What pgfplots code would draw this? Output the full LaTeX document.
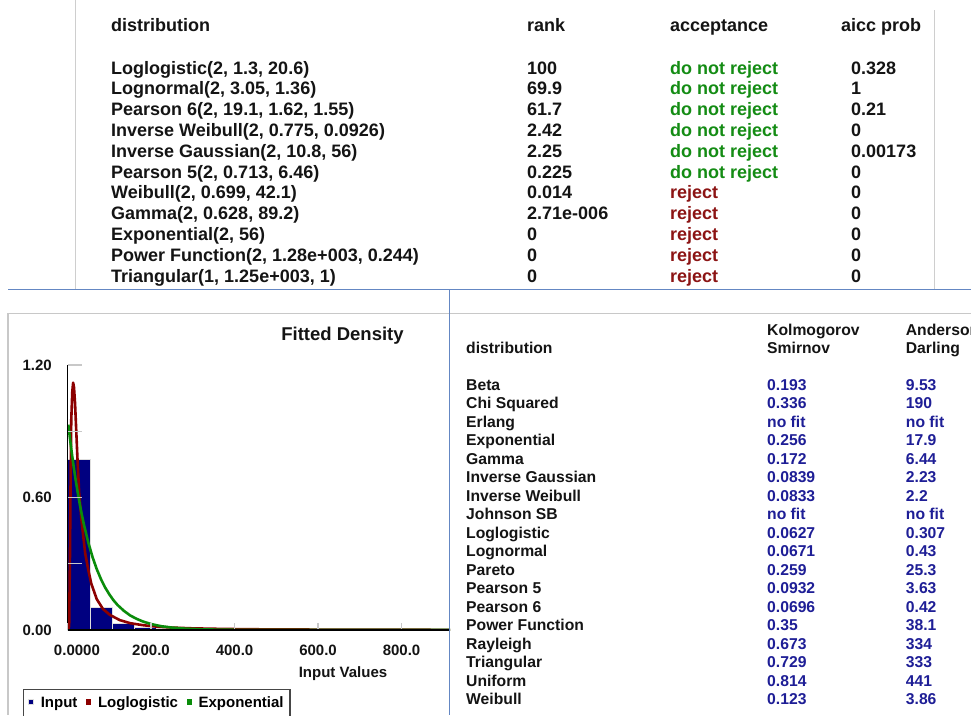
\documentclass[border=0pt]{standalone}
\usepackage{fontspec}
\setmainfont{Liberation Sans}
\usepackage{pgfplots}
\pgfplotsset{compat=1.18}
\definecolor{barnavy}{RGB}{0,0,128}
\definecolor{curvered}{RGB}{140,0,0}
\definecolor{curvegreen}{RGB}{10,140,10}
\definecolor{tickgrey}{RGB}{200,200,200}
\definecolor{valblue}{RGB}{30,30,150}
\definecolor{accgreen}{RGB}{20,140,20}
\definecolor{accred}{RGB}{140,20,20}
\definecolor{tblack}{RGB}{20,20,20}
\definecolor{panelblue}{RGB}{100,135,195}
\definecolor{panelgrey}{RGB}{200,200,200}
\definecolor{legendgrey}{RGB}{70,70,70}
\begin{document}
\begin{tikzpicture}[x=1pt,y=1pt]
\path[use as bounding box] (0,0) rectangle (971,-715);
\fill[white] (0,0) rectangle (971,-715);
% ---------- panel lines ----------
\draw[panelgrey!90, line width=1pt] (75.7,0) -- (75.7,-289);
\draw[panelgrey!90, line width=1pt] (934.3,-10) -- (934.3,-289);
\draw[panelgrey, line width=1.2pt] (8,-313.3) -- (971,-313.3);
\draw[panelgrey, line width=1.2pt] (8,-313.3) -- (8,-715);
% ---------- top table ----------
\begin{scope}[every node/.style={anchor=base west, inner sep=0pt, font=\fontsize{18}{20}\selectfont\bfseries, text=tblack}]
\node at (111,-31.7) {distribution};
\node at (527,-31.7) {rank};
\node at (670,-31.7) {acceptance};
\node at (841,-31.7) {aicc prob};
\foreach \d/\r/\a/\c/\p [count=\i from 0] in {
 {Loglogistic(2, 1.3, 20.6)}/100/do not reject/accgreen/0.328,
 {Lognormal(2, 3.05, 1.36)}/69.9/do not reject/accgreen/1,
 {Pearson 6(2, 19.1, 1.62, 1.55)}/61.7/do not reject/accgreen/0.21,
 {Inverse Weibull(2, 0.775, 0.0926)}/2.42/do not reject/accgreen/0,
 {Inverse Gaussian(2, 10.8, 56)}/2.25/do not reject/accgreen/0.00173,
 {Pearson 5(2, 0.713, 6.46)}/0.225/do not reject/accgreen/0,
 {Weibull(2, 0.699, 42.1)}/0.014/reject/accred/0,
 {Gamma(2, 0.628, 89.2)}/2.71e-006/reject/accred/0,
 {Exponential(2, 56)}/0/reject/accred/0,
 {Power Function(2, 1.28e+003, 0.244)}/0/reject/accred/0,
 {Triangular(1, 1.25e+003, 1)}/0/reject/accred/0}
 {
 \node at (111,{-74-20.8*\i}) {\d};
 \node at (527,{-74-20.8*\i}) {\r};
 \node[text=\c] at (670,{-74-20.8*\i}) {\a};
 \node at (851,{-74-20.8*\i}) {\p};
 }
\end{scope}
% ---------- lower table ----------
\begin{scope}[every node/.style={anchor=base west, inner sep=0pt, font=\fontsize{15.7}{17}\selectfont\bfseries, text=tblack}]
\node at (466,-353.3) {distribution};
\node at (767,-335) {Kolmogorov};
\node at (767,-353.3) {Smirnov};
\node at (905.7,-335) {Anderson};
\node at (905.7,-353.3) {Darling};
\foreach \n/\k/\a [count=\i from 0] in {
 Beta/0.193/9.53, Chi Squared/0.336/190, Erlang/no fit/no fit,
 Exponential/0.256/17.9, Gamma/0.172/6.44, Inverse Gaussian/0.0839/2.23,
 Inverse Weibull/0.0833/2.2, Johnson SB/no fit/no fit, Loglogistic/0.0627/0.307,
 Lognormal/0.0671/0.43, Pareto/0.259/25.3, Pearson 5/0.0932/3.63,
 Pearson 6/0.0696/0.42, Power Function/0.35/38.1, Rayleigh/0.673/334,
 Triangular/0.729/333, Uniform/0.814/441, Weibull/0.123/3.86}
 {
 \node at (466,{-390-18.51*\i}) {\n};
 \node[text=valblue] at (767,{-390-18.51*\i}) {\k};
 \node[text=valblue] at (905.7,{-390-18.51*\i}) {\a};
 }
\end{scope}
% ---------- chart ----------
\node[anchor=base, inner sep=0pt, font=\fontsize{18.5}{20}\selectfont\bfseries, text=tblack] at (342.5,-340) {Fitted Density};
\node[anchor=base, inner sep=0pt, font=\fontsize{15}{16}\selectfont\bfseries, text=tblack] at (343,-677.7) {Input Values};
\begin{axis}[
  at={(67.5pt,-630pt)}, anchor=south west,
  scale only axis, width=382.5pt, height=265pt,
  xmin=0, xmax=916, ymin=0, ymax=1.2,
  axis x line*=bottom, axis y line*=left,
  axis line style={black, line width=1.8pt, -},
  axis on top,
  tick align=inside,
  xtick={200,400,600,800},
  xticklabels={\textbf{200.0},\textbf{400.0},\textbf{600.0},\textbf{800.0}},
  extra x ticks={0},
  extra x tick labels={\makebox[0pt][l]{\hspace*{-13.5pt}\textbf{0.0000}}},
  extra x tick style={major tick length=0pt},
  ytick={0.3,0.6,0.9,1.2},
  yticklabels={,\textbf{0.60},,\textbf{1.20}},
  extra y ticks={0},
  extra y tick labels={\textbf{0.00}},
  extra y tick style={major tick length=0pt},
  major tick length=14pt,
  tick style={color=tickgrey, line width=1.2pt},
  xtick style={/pgfplots/major tick length=7pt},
  ticklabel style={font=\fontsize{15}{16}\selectfont\bfseries, text=tblack},
  yticklabel style={anchor=east, inner sep=0pt, xshift=-15.5pt},
  xticklabel style={anchor=north, inner sep=0pt, yshift=-14.4pt},
  legend columns=-1,
  legend cell align=left,
  legend style={at={(-0.1171,-0.2226)}, anchor=north west, draw=legendgrey, line width=1.3pt,
    fill=white, font=\fontsize{15}{16}\selectfont\bfseries, inner xsep=4.5pt, inner ysep=5pt,
    nodes={text depth=7pt},
    /tikz/every odd column/.append style={column sep=4.7pt},
    /tikz/every even column/.append style={column sep=6.7pt}},
  legend image code/.code={\path[#1, draw=none, fill] (0pt,0.9pt) rectangle (5.2pt,6.1pt);},
]
\addplot[ybar interval, fill=barnavy, draw=tickgrey!60, line width=1pt,
  legend image code/.code={\path[fill=barnavy] (0pt,0.9pt) rectangle (5.2pt,6.1pt);}]
  coordinates {(0,0.77) (54,0.103) (107,0.030) (160,0.012) (213,0.005) (266,0.003) (320,0.002) (373,0.002)};
\addlegendentry{Input}
\addplot[color=curvered, line width=2.6pt, line join=round] coordinates {
 (2,0) (4,0.02) (6,0.35) (7.5,0.7) (9,0.95) (11.5,1.08) (13.5,1.12) (15.5,1.10) (18,1.03)
 (21,0.90) (24,0.77) (28,0.62) (34,0.487) (42.5,0.346) (50,0.27) (57,0.21) (70,0.14)
 (85,0.095) (102,0.068) (125,0.045) (150,0.031) (180,0.022) (210,0.016) (250,0.011)
 (300,0.0075) (370,0.005) (450,0.0033) (600,0.0019) (916,0.0008)};
\addlegendentry{Loglogistic}
\addplot[color=curvegreen, line width=2.6pt, line join=round] coordinates {
 (2,0.930) (6,0.866) (10,0.806) (15,0.737) (20,0.674) (25,0.617) (30,0.564) (35,0.516)
 (40,0.472) (50,0.395) (60,0.330) (70,0.276) (80,0.231) (90,0.193) (100,0.162) (110,0.135)
 (120,0.113) (135,0.087) (150,0.066) (165,0.051) (180,0.039) (200,0.027) (225,0.017)
 (250,0.011) (280,0.0065) (320,0.0032) (370,0.0013) (450,0.0003) (550,0.0001) (916,0)};
\addlegendentry{Exponential}
\end{axis}
% right chart border and separator line
\draw[panelblue, line width=1.3pt] (8,-289.3) -- (971,-289.3);
\draw[panelblue, line width=1.3pt] (449.3,-289.3) -- (449.3,-715);
\end{tikzpicture}
\end{document}
